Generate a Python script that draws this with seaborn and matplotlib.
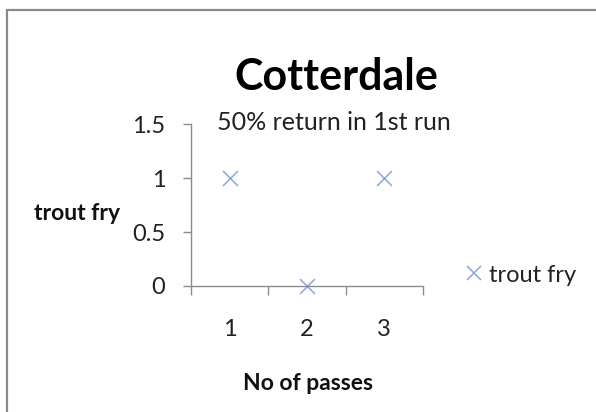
import matplotlib
matplotlib.use("Agg")
import matplotlib.pyplot as plt
from matplotlib.patches import Rectangle
import seaborn as sns
import pandas as pd

# Electrofishing passes and trout fry caught on each
passes = ["1", "2", "3"]
trout_fry = [1, 0, 1]
y_ticks = [0, 0.5, 1, 1.5]
y_tick_labels = ["0", "0.5", "1", "1.5"]

sns.set_theme(style="white")
plt.rcParams["font.family"] = ["Lato", "DejaVu Sans"]

df = pd.DataFrame({"passes": passes, "trout fry": trout_fry})
df["pos"] = range(len(passes))

W, H = 596, 412
fig = plt.figure(figsize=(W / 100, H / 100), dpi=100)
ax = fig.add_axes([191 / W, 1 - 286 / H, (423 - 191) / W, (286 - 124) / H])

marker_color = "#86a8dc"
sns.scatterplot(data=df, x="pos", y="trout fry", marker="x", color=marker_color,
                s=115, linewidth=1.1, ax=ax, legend=False, clip_on=False)

ax.set_xlim(-0.5, len(passes) - 0.5)
ax.set_ylim(0, 1.5)

axis_grey = "#8c8c8c"
text_col = "#222222"
for side in ["top", "right"]:
    ax.spines[side].set_visible(False)
for side in ["left", "bottom"]:
    ax.spines[side].set_color(axis_grey)
    ax.spines[side].set_linewidth(1.0)

ax.set_yticks(y_ticks)
ax.set_yticklabels(y_tick_labels)
ax.tick_params(axis="y", direction="out", length=5.5, width=1, color=axis_grey,
               labelsize=17, labelcolor=text_col, pad=13, left=True)

# category labels in the middle, tick marks on category boundaries
ax.set_xticks(range(len(passes)))
ax.set_xticklabels(passes)
ax.set_xticks([i - 0.5 for i in range(len(passes) + 1)], minor=True)
ax.tick_params(axis="x", which="major", length=0, labelsize=17,
               labelcolor=text_col, pad=24)
ax.tick_params(axis="x", which="minor", direction="out", length=6.5, width=1,
               color=axis_grey, bottom=True)

ax.set_xlabel("")
ax.set_ylabel("")

fig.text(308 / W, 1 - 390 / H, "No of passes", fontsize=16.5, fontweight="bold",
         ha="center", va="baseline", color="#111111")
fig.text(34 / W, 1 - 220 / H, "trout fry", fontsize=16.5, fontweight="bold",
         ha="left", va="baseline", color="#111111")

fig.text(336 / W, 1 - 90 / H, "Cotterdale", fontsize=31, fontweight="bold",
         ha="center", va="baseline", color="#000000")
ax.text((217 - 191) / 232, (286 - 130) / 162, "50% return in 1st run",
        transform=ax.transAxes, fontsize=18, ha="left", va="baseline",
        color=text_col)

# legend entry on the right
ax.plot([], [], linestyle="none", marker="x", color=marker_color,
        markersize=10.5, markeredgewidth=1.1, label="trout fry")
leg = fig.legend(loc="center left", bbox_to_anchor=(467 / W, 1 - 275 / H),
                 frameon=False, fontsize=17, handlelength=0.6,
                 handletextpad=0.35, borderpad=0, borderaxespad=0)
for t in leg.get_texts():
    t.set_color(text_col)

# chart area border
fig.patches.append(Rectangle((7 / W, -0.1), 1.2, 1 - 10 / H + 0.1,
                             transform=fig.transFigure, fill=False,
                             edgecolor="#8a8a8a", linewidth=1.6))

fig.savefig("out.png", dpi=100, facecolor="white")
